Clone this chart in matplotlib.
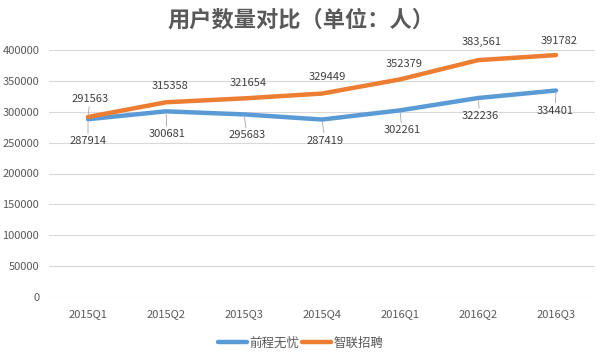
import matplotlib
matplotlib.use("Agg")
import matplotlib.pyplot as plt

plt.rcParams['font.family'] = ['Noto Sans CJK SC', 'DejaVu Sans']

# 数据
quarters = ['2015Q1', '2015Q2', '2015Q3', '2015Q4', '2016Q1', '2016Q2', '2016Q3']
qiancheng = [287914, 300681, 295683, 287419, 302261, 322236, 334401]
zhilian = [291563, 315358, 321654, 329449, 352379, 383561, 391782]
zhilian_labels = ['291563', '315358', '321654', '329449', '352379', '383,561', '391782']
qiancheng_labels = ['287914', '300681', '295683', '287419', '302261', '322236', '334401']
yticks = [0, 50000, 100000, 150000, 200000, 250000, 300000, 350000, 400000]

blue = '#5B9BD5'
orange = '#ED7D31'
grey = '#595959'

fig = plt.figure(figsize=(6.01, 3.53), dpi=100)
ax = fig.add_axes([49/601, 1-297/353, 546/601, 247/353])

x = list(range(len(quarters)))
ax.plot(x, qiancheng, color=blue, lw=3.2, label='前程无忧', solid_capstyle='round', zorder=3)
ax.plot(x, zhilian, color=orange, lw=3.2, label='智联招聘', solid_capstyle='round', zorder=3)

# 标签偏移 (像素)
z_off = [(2, 18), (4, 16), (4, 15), (5, 17), (4, 15), (4, 18), (3, 14)]
q_off = [(0, -22), (1, -23), (3, -21), (3, -21), (2, -20), (2, -18), (-1, -20)]
z_leader = [True, False, False, False, False, False, False]
q_leader = [True] * 7

for i in x:
    dx, dy = z_off[i]
    ap = dict(arrowstyle='-', color='#A6A6A6', lw=0.6, shrinkA=0, shrinkB=2) if z_leader[i] else None
    ax.annotate(zhilian_labels[i], (i, zhilian[i]), xytext=(dx*0.72, dy*0.72),
                textcoords='offset points', ha='center', va='center',
                fontsize=8, color='#404040', arrowprops=ap, zorder=4)
    dx, dy = q_off[i]
    ap = dict(arrowstyle='-', color='#A6A6A6', lw=0.6, shrinkA=0, shrinkB=2) if q_leader[i] else None
    ax.annotate(qiancheng_labels[i], (i, qiancheng[i]), xytext=(dx*0.72, dy*0.72),
                textcoords='offset points', ha='center', va='center',
                fontsize=8, color='#404040', arrowprops=ap, zorder=4)

ax.set_xlim(-0.5, 6.5)
ax.set_ylim(0, 400000)
ax.set_yticks(yticks)
ax.set_yticklabels([str(v) for v in yticks])
ax.set_xticks(x)
ax.set_xticklabels(quarters)
ax.tick_params(axis='both', length=0, labelsize=8, labelcolor=grey)
ax.tick_params(axis='x', pad=9)
ax.tick_params(axis='y', pad=7)
ax.grid(axis='y', color='#D9D9D9', lw=0.8)
ax.set_axisbelow(True)
for s in ax.spines.values():
    s.set_visible(False)

fig.text(0.5, 1-20/353, '用户数量对比（单位：人）', ha='center', va='center',
         fontsize=16, fontweight='bold', color=grey)

fig.legend(loc='center', bbox_to_anchor=(0.5, 1-343/353), ncol=2, frameon=False,
           fontsize=9, handlelength=2.3, columnspacing=0.2, handletextpad=0.2,
           labelcolor=grey)

fig.savefig('out.png', dpi=100)
